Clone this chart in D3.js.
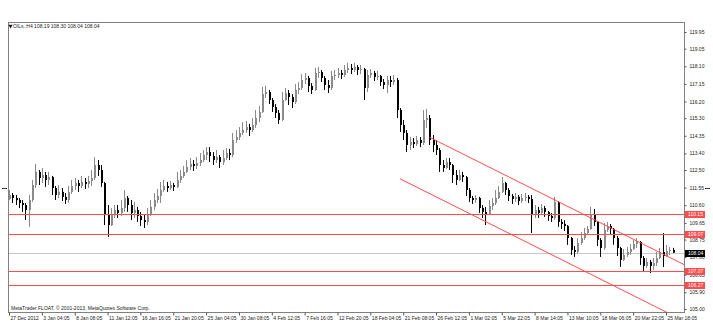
<!DOCTYPE html>
<html>
<head>
	<meta charset="utf-8">
	<title>OILs H4</title>
	<script src="https://d3js.org/d3.v7.min.js"></script>
	<style type="text/css">
		body{ margin: 0; background: #fff; }
		svg text{ font-family: "Liberation Sans", Arial, sans-serif; font-size: 5px; fill: #222; }
	</style>
</head>
<body>
<script type="text/javascript">
	// header text and axis labels
	var chartTitle = "OILs.,H4  108.19 108.30 108.04 108.04"
	var copyright = "MetaTrader FLOAT, \u00a9 2001-2013, MetaQuotes Software Corp."
	var dateLabels = ["27 Dec 2012","3 Jan 04:05","8 Jan 08:05","11 Jan 12:05","16 Jan 16:05","21 Jan 20:05","25 Jan 04:05",
		"30 Jan 08:05","4 Feb 12:05","7 Feb 16:05","12 Feb 20:05","18 Feb 04:05","21 Feb 08:05","26 Feb 12:05",
		"1 Mar 02:05","5 Mar 22:05","8 Mar 14:05","13 Mar 10:05","18 Mar 06:05","20 Mar 22:05","25 Mar 18:05"]
	var priceTicks = [119.95,119.05,118.10,117.15,116.20,115.30,114.35,113.40,112.50,111.55,110.60,109.65,108.75,107.80,106.85,105.90,105.00]

	// H4 bars (open of each bar = close of the one before)
	var firstOpen = 110.94
	var closes = [
		111.15,110.99,110.88,110.72,110.61,110.34,110.88,111.69,112.40,112.07,
		112.23,111.96,112.12,111.53,111.15,111.32,111.05,110.88,111.32,111.64,
		111.80,111.64,111.86,111.75,111.91,112.07,112.77,112.50,111.80,110.07,
		109.53,110.07,110.34,110.18,110.45,110.99,110.61,110.18,110.34,110.02,
		109.80,109.70,110.07,110.51,110.88,111.10,111.42,111.64,111.53,111.69,
		111.59,111.96,112.18,112.40,112.66,112.83,112.72,112.88,113.04,113.31,
		113.47,113.26,113.04,113.20,112.93,113.15,113.42,113.31,114.12,114.28,
		114.50,114.66,114.82,114.66,114.93,115.31,115.63,116.60,116.71,116.28,
		115.90,115.58,115.20,116.28,116.66,116.44,116.17,116.82,116.93,117.36,
		117.47,117.04,116.82,117.74,117.79,117.47,117.09,116.93,117.58,117.63,
		117.74,117.63,117.90,118.01,117.90,118.06,117.90,117.95,116.93,117.63,
		117.74,117.52,117.58,117.25,117.09,117.36,117.25,117.36,115.74,114.93,
		114.50,113.85,114.01,113.91,114.12,113.96,115.20,115.31,114.12,113.85,
		113.58,112.77,112.61,112.93,112.77,112.23,111.96,112.23,112.12,111.42,
		110.99,110.88,110.99,110.45,110.24,110.13,110.56,110.72,110.99,111.32,
		111.80,111.42,111.10,110.94,111.05,110.83,110.99,111.05,110.94,110.07,
		110.34,110.18,110.45,110.24,110.02,109.91,110.78,109.70,109.59,109.48,
		108.83,108.19,108.08,108.56,108.83,109.10,109.32,110.07,109.70,108.73,
		108.29,109.27,109.48,109.32,108.83,108.29,107.65,107.92,108.08,108.24,
		108.51,108.62,107.75,107.32,107.54,107.32,107.48,107.75,108.08,107.86,
		108.13,108.19,108.04]
	var highs = [
		111.42,111.26,111.15,110.99,110.88,110.72,111.15,111.96,112.83,112.50,
		112.61,112.40,112.40,112.18,111.64,111.69,111.53,111.26,111.64,111.96,
		112.07,111.96,112.18,112.07,112.18,112.50,113.20,113.04,112.77,111.86,
		110.61,110.45,110.61,110.61,110.88,111.42,111.10,110.88,110.78,110.51,
		110.24,110.07,110.45,110.88,111.26,111.48,111.86,111.96,111.86,111.91,
		111.80,112.40,112.50,112.72,113.04,113.15,113.04,113.20,113.42,113.58,
		113.74,113.74,113.47,113.58,113.31,113.58,113.69,113.64,114.50,114.66,
		114.82,115.09,115.15,114.99,115.31,115.74,115.96,116.98,117.04,116.82,
		116.39,116.06,115.74,116.71,116.93,116.82,116.60,117.14,117.25,117.68,
		117.74,117.58,117.20,118.01,118.06,117.90,117.58,117.36,117.85,117.90,
		118.01,117.90,118.17,118.28,118.22,118.28,118.17,118.17,118.01,117.90,
		117.95,117.85,117.85,117.63,117.41,117.58,117.58,117.63,117.47,115.85,
		115.20,114.66,114.28,114.23,114.34,114.28,115.74,115.80,115.47,114.39,
		114.12,113.69,113.04,113.15,113.15,112.83,112.50,112.50,112.40,112.18,
		111.53,111.10,111.15,111.05,110.61,110.51,110.88,110.99,111.42,111.64,
		112.12,111.86,111.53,111.21,111.26,111.15,111.21,111.26,111.15,111.15,
		110.61,110.51,110.67,110.56,110.29,110.18,111.05,110.83,109.86,109.80,
		109.53,108.89,108.40,108.83,109.16,109.37,109.48,110.51,110.40,109.75,
		108.83,109.64,109.70,109.59,109.37,108.94,108.35,108.24,108.35,108.51,
		108.73,108.83,108.67,107.86,107.75,107.65,107.75,108.08,108.29,109.10,
		108.46,108.35,108.30]
	var lows = [
		110.88,110.72,110.61,110.45,110.24,109.80,109.43,110.78,111.53,111.69,
		111.80,111.59,111.69,111.15,110.88,110.99,110.83,110.67,110.72,111.21,
		111.42,111.32,111.53,111.48,111.53,111.64,111.96,112.18,111.59,109.53,
		108.89,109.48,109.91,109.91,110.02,110.24,110.24,109.80,109.91,109.70,
		109.48,109.37,109.53,110.02,110.34,110.72,110.72,111.32,111.32,111.42,
		111.37,111.53,111.80,112.07,112.34,112.50,112.45,112.56,112.72,112.93,
		113.04,112.93,112.77,112.88,112.61,112.77,113.04,113.04,113.20,113.96,
		114.12,114.39,114.50,114.34,114.55,114.77,115.09,115.58,116.39,116.06,
		115.63,115.31,114.99,115.15,116.23,116.01,115.85,116.06,116.60,116.82,
		117.14,116.71,116.60,116.77,117.47,117.25,116.82,116.66,116.82,117.36,
		117.47,117.41,117.52,117.74,117.68,117.79,117.63,117.68,116.28,116.71,
		117.47,117.31,117.36,117.04,116.87,116.66,116.98,117.09,115.31,114.55,
		114.12,113.47,113.58,113.69,113.80,113.74,113.85,114.77,113.85,113.47,
		113.31,112.40,112.40,112.56,112.50,111.80,111.69,111.91,111.86,111.10,
		110.78,110.67,110.72,110.18,109.91,109.53,110.07,110.34,110.61,110.94,
		111.26,111.15,110.83,110.67,110.78,110.61,110.72,110.83,110.72,109.10,
		109.91,109.91,110.07,109.97,109.75,109.70,109.80,109.43,109.32,109.21,
		108.46,107.92,107.81,107.97,108.46,108.73,109.05,109.27,109.48,108.40,
		107.81,108.19,109.16,109.05,108.46,107.86,107.27,107.59,107.81,107.92,
		108.19,108.29,107.38,107.05,107.21,106.94,107.11,107.32,107.70,107.27,
		107.81,107.92,108.04]

	// drawn objects: horizontal levels, bid line, channel (bar index, price)
	var levels = [110.15, 109.07, 107.07, 106.27]
	var bidPrice = 108.04
	var upperChannel = [[128, 114.27], [190, 108.77]]
	var lowerChannel = [[119, 112.03], [190, 105.73]]

	var W = 713, H = 332
	var plotL = 8, plotR = 684, plotT = 22, plotB = 312
	var red = "#ff4d4d"

	var svg = d3.select("body").append("svg").attr("width", W).attr("height", H)

	var x = d3.scaleLinear().domain([0, 200]).range([9, 666])
	var y = d3.scaleLinear().domain([105.00, 119.95]).range([309, 32])

	var bars = closes.map(function(c, i){
		return {i: i, o: (i == 0 ? firstOpen : closes[i-1]), h: highs[i], l: lows[i], c: c}
	})

	svg.append("clipPath").attr("id", "plot").append("rect")
		.attr("x", plotL).attr("y", plotT).attr("width", plotR - plotL).attr("height", plotB - plotT)

	var plot = svg.append("g").attr("clip-path", "url(#plot)")

	// bid line
	plot.append("line").attr("x1", plotL).attr("x2", plotR)
		.attr("y1", Math.round(y(bidPrice)) + 0.5).attr("y2", Math.round(y(bidPrice)) + 0.5)
		.attr("stroke", "#c8c8c8").attr("stroke-width", 1)

	// candles
	function col(d){ return d.c >= d.o ? "#8a8a8a" : "#000" }
	var candle = plot.selectAll("g.bar").data(bars).enter().append("g").attr("class", "bar")
	candle.append("line")
		.attr("x1", function(d){ return Math.round(x(d.i)) + 0.5 })
		.attr("x2", function(d){ return Math.round(x(d.i)) + 0.5 })
		.attr("y1", function(d){ return y(d.h) })
		.attr("y2", function(d){ return y(d.l) })
		.attr("stroke", col).attr("stroke-width", 1)
	candle.append("rect")
		.attr("x", function(d){ return Math.round(x(d.i)) })
		.attr("width", 2)
		.attr("y", function(d){ return y(Math.max(d.o, d.c)) })
		.attr("height", function(d){ return Math.max(1, Math.abs(y(d.o) - y(d.c))) })
		.attr("fill", col)

	// horizontal levels
	plot.selectAll("line.level").data(levels).enter().append("line").attr("class", "level")
		.attr("x1", plotL).attr("x2", plotR)
		.attr("y1", function(d){ return Math.round(y(d)) + 0.5 })
		.attr("y2", function(d){ return Math.round(y(d)) + 0.5 })
		.attr("stroke", red).attr("stroke-width", 1)

	// channel rays, extended to the right border
	var endIndex = x.invert(plotR)
	function ray(p){
		var slope = (p[1][1] - p[0][1]) / (p[1][0] - p[0][0])
		return [p[0], [endIndex, p[0][1] + slope * (endIndex - p[0][0])]]
	}
	plot.selectAll("path.channel").data([ray(upperChannel), ray(lowerChannel)]).enter().append("path").attr("class", "channel")
		.attr("d", d3.line().x(function(d){ return x(d[0]) }).y(function(d){ return y(d[1]) }))
		.attr("fill", "none").attr("stroke", red).attr("stroke-width", 1)

	// frame
	svg.append("rect").attr("x", plotL + 0.5).attr("y", plotT + 0.5)
		.attr("width", plotR - plotL).attr("height", plotB - plotT)
		.attr("fill", "none").attr("stroke", "#808080").attr("stroke-width", 1)

	// price axis
	var yAxis = svg.append("g").attr("transform", "translate(" + (plotR + 0.5) + ",0)")
		.call(d3.axisRight(y).tickValues(priceTicks).tickSize(2).tickPadding(3).tickFormat(d3.format(".2f")))
	yAxis.select(".domain").remove()
	yAxis.selectAll("line").attr("stroke", "#555")
	yAxis.attr("font-size", null).attr("font-family", null)

	// time axis
	var xAxis = svg.append("g").attr("transform", "translate(0," + (plotB + 0.5) + ")")
		.call(d3.axisBottom(x).tickValues(d3.range(0, 201, 10)).tickSize(3)
			.tickFormat(function(d, i){ return dateLabels[i] }))
	xAxis.select(".domain").remove()
	xAxis.selectAll("line").attr("stroke", "#555")
	xAxis.selectAll("text").attr("text-anchor", "start").attr("x", 1).attr("y", 4)
	xAxis.attr("font-size", null).attr("font-family", null)

	// level labels on the price axis
	var tags = svg.selectAll("g.tag").data(levels.map(function(d){ return {v: d, bg: red} }).concat([{v: bidPrice, bg: "#000"}]))
		.enter().append("g").attr("class", "tag")
		.attr("transform", function(d){ return "translate(" + (plotR + 1) + "," + Math.round(y(d.v)) + ")" })
	tags.append("rect").attr("x", 0).attr("y", -3).attr("width", 20).attr("height", 7).attr("fill", function(d){ return d.bg })
	tags.append("text").attr("x", 3).attr("y", 2.3).style("fill", "#fff").text(function(d){ return d.v.toFixed(2) })

	// shift markers
	svg.append("line").attr("x1", 2).attr("x2", 7).attr("y1", Math.round(y(111.55)) + 0.5).attr("y2", Math.round(y(111.55)) + 0.5)
		.attr("stroke", "#333")
	svg.append("line").attr("x1", 705).attr("x2", 710).attr("y1", Math.round(y(111.55)) + 0.5).attr("y2", Math.round(y(111.55)) + 0.5)
		.attr("stroke", "#333")

	// title and copyright
	svg.append("path").attr("d", d3.symbol(d3.symbolTriangle, 8)).attr("fill", "#222")
		.attr("transform", "translate(10.5,26) rotate(180)")
	svg.append("text").attr("x", 13).attr("y", 27.5).text(chartTitle)
	svg.append("text").attr("x", 11).attr("y", 309.5).text(copyright)
</script>
</body>
</html>
